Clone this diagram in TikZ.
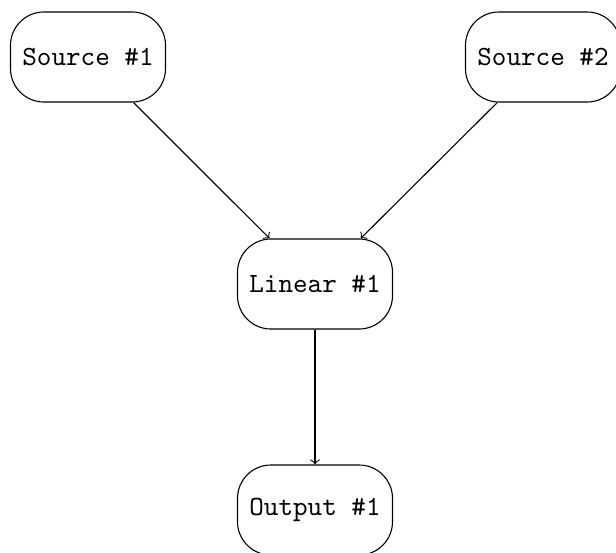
\documentclass[tikz,border=0pt]{standalone}
\usetikzlibrary{arrows}
\begin{document}
\begin{tikzpicture}[x=0.36pt,y=-0.36pt,
  block/.style={draw,rounded corners=12pt,font=\ttfamily,
    minimum width=55.8pt,minimum height=32.4pt,inner sep=0pt},
  link/.style={->,line width=0.4pt}]
  \useasboundingbox (0,0) rectangle (616,552);
  \node[block] (s1)  at (88,57)   {Source \#1};
  \node[block] (s2)  at (543,57)  {Source \#2};
  \node[block] (lin) at (315,284) {Linear \#1};
  \node[block] (out) at (315,510) {Output \#1};
  \draw[link] (s1) -- (lin);
  \draw[link] (s2) -- (lin);
  \draw[link] (lin) -- (out);
\end{tikzpicture}
\end{document}
